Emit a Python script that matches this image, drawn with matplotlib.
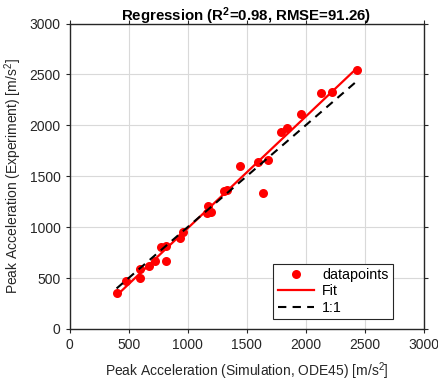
import numpy as np
import matplotlib
matplotlib.use("Agg")
import matplotlib.pyplot as plt

plt.rcParams['font.family'] = ['Liberation Sans', 'DejaVu Sans']
plt.rcParams['mathtext.fontset'] = 'custom'
plt.rcParams['mathtext.rm'] = 'Liberation Sans'
plt.rcParams['mathtext.it'] = 'Liberation Sans:italic'
plt.rcParams['mathtext.bf'] = 'Liberation Sans:bold'

# Peak accelerations [m/s^2]
sim_peak = [398, 474, 596, 596, 675, 720, 771, 816, 816, 935, 963,
            1161, 1172, 1200, 1310, 1330, 1443, 1593, 1641, 1683,
            1788, 1839, 1958, 2130, 2220, 2432]
exp_peak = [357, 471, 504, 589, 619, 670, 805, 818, 668, 894, 956,
            1136, 1211, 1149, 1359, 1365, 1604, 1637, 1333, 1660,
            1938, 1971, 2112, 2315, 2325, 2544]

title_text = r'Regression (R$^\mathbf{2}$=0.98, RMSE=91.26)'
xlabel_text = r'Peak Acceleration (Simulation, ODE45) [m/s$^2$]'
ylabel_text = r'Peak Acceleration (Experiment) [m/s$^2$]'
ticks = [0, 500, 1000, 1500, 2000, 2500, 3000]
legend_labels = ['datapoints', 'Fit', '1:1']

x = np.array(sim_peak, dtype=float)
y = np.array(exp_peak, dtype=float)
slope, intercept = np.polyfit(x, y, 1)
xl = np.array([x.min(), x.max()])

fig = plt.figure(figsize=(4.38, 3.87), dpi=100)
ax = fig.add_axes([0.159, 0.150, 0.808, 0.789])

ax.plot(x, y, 'o', color='#ff0000', markersize=6.5, markeredgewidth=0,
        label=legend_labels[0], zorder=3)
ax.plot(xl, slope * xl + intercept, '-', color='#ff0000', linewidth=1.6,
        label=legend_labels[1], zorder=4)
ax.plot(xl, xl, '--', color='black', linewidth=1.5, dashes=(4, 3),
        label=legend_labels[2], zorder=5)

ax.set_xlim(0, 3000)
ax.set_ylim(0, 3000)
ax.set_xticks(ticks)
ax.set_yticks(ticks)
ax.grid(True, color='#d9d9d9', linewidth=0.8)
ax.set_axisbelow(True)
for s in ax.spines.values():
    s.set_color('#262626')
    s.set_linewidth(1.0)
ax.tick_params(direction='out', length=3, width=0.8, colors='#262626',
               labelsize=10, top=True, right=True, labelcolor='#262626')

ax.set_title(title_text, fontsize=10.8, fontweight='bold', pad=2)
ax.set_xlabel(xlabel_text, fontsize=10, color='#262626', labelpad=6)
ax.set_ylabel(ylabel_text, fontsize=10, color='#262626', labelpad=4)

leg = ax.legend(loc='lower right', bbox_to_anchor=(0.913, 0.033),
                borderaxespad=0, fontsize=10.3, frameon=True, fancybox=False,
                edgecolor='#262626', framealpha=1, handlelength=2.5,
                borderpad=0.3, labelspacing=0.15, handletextpad=0.6)
leg.get_frame().set_linewidth(0.8)

fig.savefig('out.png', dpi=100)
